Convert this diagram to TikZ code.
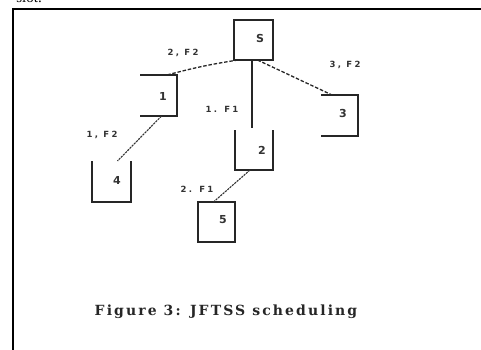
\documentclass[tikz,border=0pt]{standalone}
\usepackage{fontspec}
\setmainfont{Liberation Serif}
\newfontfamily\labelfont[LetterSpace=28]{DejaVu Sans}
\newfontfamily\numfont{DejaVu Sans}
\newfontfamily\capfont[LetterSpace=15]{DejaVu Serif}
\begin{document}
\begin{tikzpicture}[x={(1pt,0)}, y={(0,-1pt)},
  box/.style={minimum width=#1, minimum height=40pt, inner sep=0pt, outer sep=0pt},
  boxline/.style={line width=1.5pt, black!85},
  num/.style={font=\numfont\bfseries\fontsize{11}{11}\selectfont, text=black!80},
  tag/.style={font=\labelfont\bfseries\fontsize{8.5}{9}\selectfont, text=black!80},
  dashlink/.style={line width=1.3pt, black!85, dash pattern=on 3.5pt off 1.8pt},
  finelink/.style={line width=1.1pt, black!80, dash pattern=on 2.2pt off 0.9pt},
  solidlink/.style={line width=1.2pt, black!85}]
\useasboundingbox (0,0) rectangle (481,350);

% frame lines and the text above it
\node[anchor=base east, font=\fontsize{15}{15}\selectfont, inner sep=0pt] (slot) at (42,3) {slot.};
\draw[line width=1.2pt] (13,350) -- (13,9) -- (481,9);

% boxes
\node[box=39pt] (s)  at (253.5,40) {};
\node[box=37pt, minimum height=41pt] (b1) at (158.5,95.5) {};
\node[box=37pt, minimum height=41pt] (b3) at (339.5,115.5) {};
\node[box=38pt] (b2) at (254,150) {};
\node[box=39pt, minimum height=41pt] (b4) at (111.5,181.5) {};
\node[box=37pt] (b5) at (216.5,222) {};

\draw[boxline] (s.north west) rectangle (s.south east);
\draw[boxline] (b1.north west) -- (b1.north east) -- (b1.south east) -- (b1.south west);
\draw[boxline] (b3.north west) -- (b3.north east) -- (b3.south east) -- (b3.south west);
\draw[boxline] (b2.north west) -- (b2.south west) -- (b2.south east) -- (b2.north east);
\draw[boxline] (b4.north west) -- (b4.south west) -- (b4.south east) -- (b4.north east);
\draw[boxline] (b5.north west) rectangle (b5.south east);

% box numbers
\node[num] (ts)  at (260,38)  {S};
\node[num] (t1)  at (163,96)  {1};
\node[num] (t3)  at (343,113) {3};
\node[num] (t2)  at (262,150) {2};
\node[num] (t4)  at (117,180) {4};
\node[num] (t5)  at (223,220) {5};

% connectors
\draw[dashlink] ([xshift=4pt]s.south west) to[bend right=3] ([xshift=-10pt]b1.north east);
\draw[solidlink] ([xshift=-1.5pt]s.south) -- ([xshift=-2pt,yshift=2pt]b2.north);
\draw[dashlink] ([xshift=4pt]s.south) -- ([xshift=11pt]b3.north west);
\draw[finelink] ([xshift=3pt]b1.south) -- ([xshift=6pt]b4.north);
\draw[finelink] ([xshift=-4pt]b2.south) -- ([xshift=-3pt]b5.north);

% connector labels
\node[tag] (l1) at (183,53)  {2, F2};
\node[tag] (l2) at (222,109) {1. F1};
\node[tag] (l3) at (345,65)  {3, F2};
\node[tag] (l4) at (102,135) {1, F2};
\node[tag] (l5) at (197,189) {2. F1};

% caption
\node[font=\capfont\bfseries\fontsize{14}{14}\selectfont, text=black!85] (cap) at (226,312) {Figure 3: JFTSS scheduling};
\end{tikzpicture}
\end{document}
